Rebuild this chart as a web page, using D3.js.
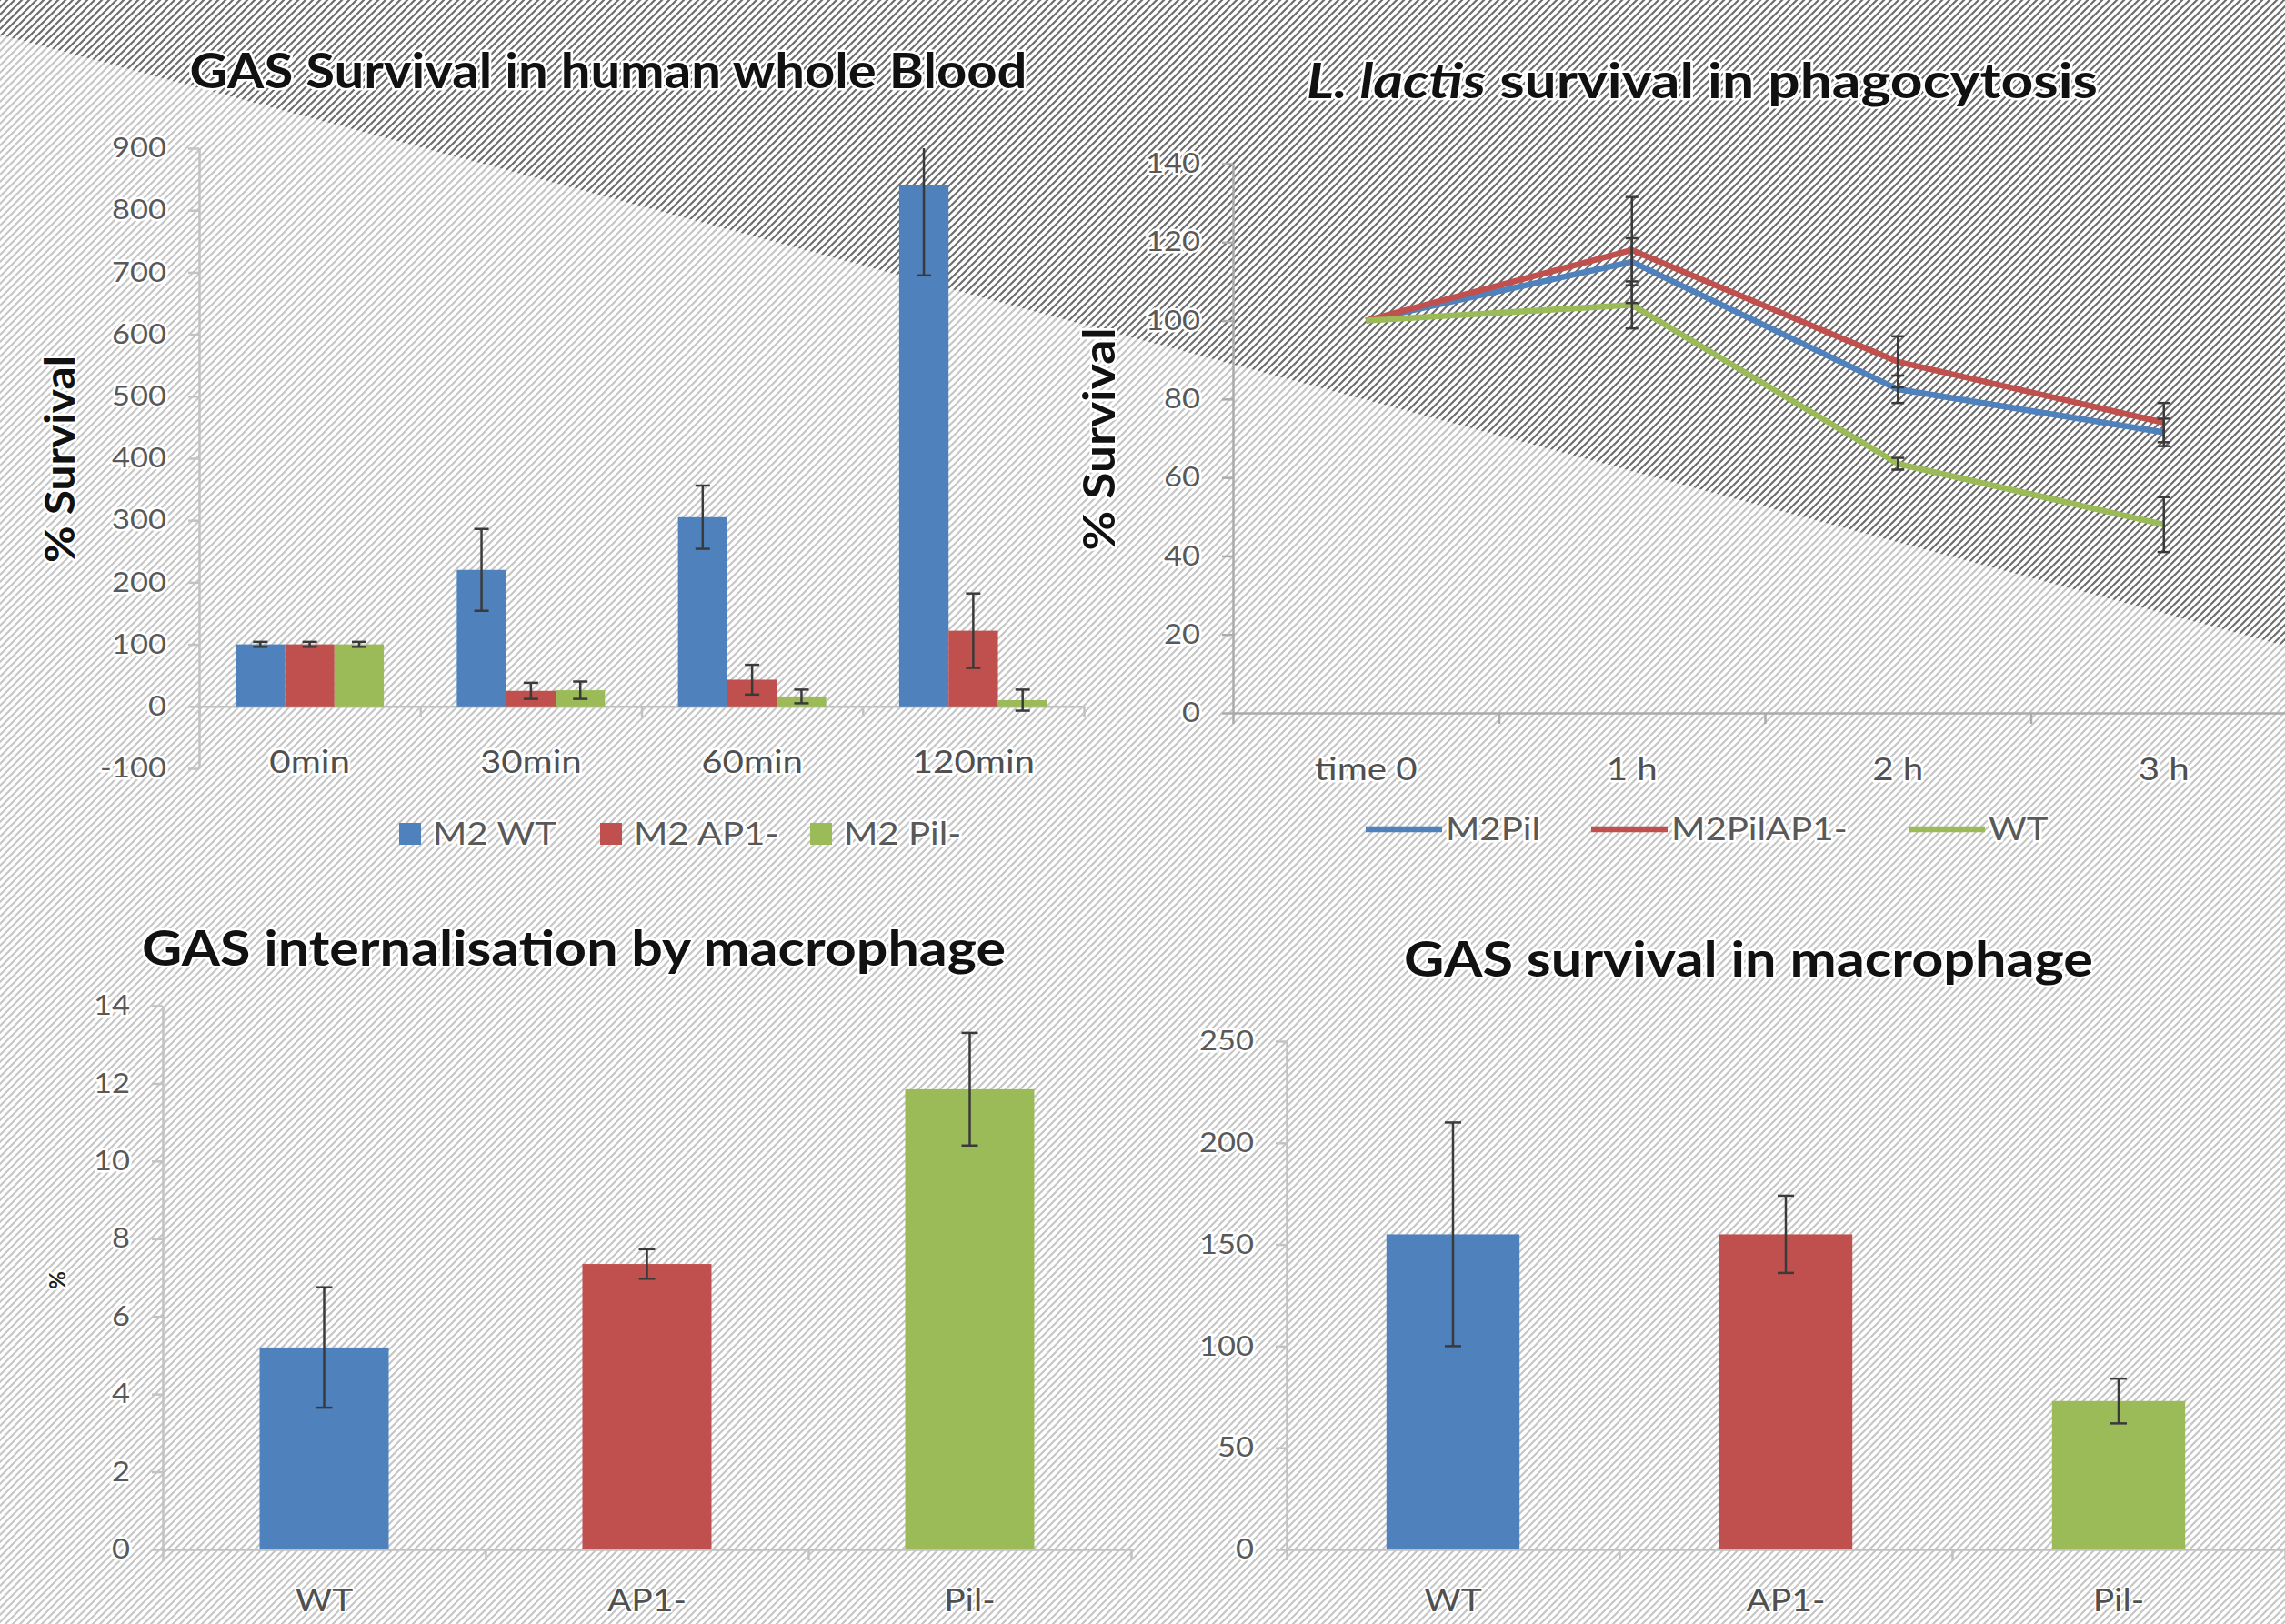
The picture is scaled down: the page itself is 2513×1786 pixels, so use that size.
<!DOCTYPE html>
<html><head><meta charset="utf-8">
<script src="https://cdn.jsdelivr.net/npm/d3@7"></script>
<style>
html,body{margin:0;padding:0;background:#fff;overflow:hidden;}
svg{display:block;}
</style></head><body>
<svg id="c" width="2513" height="1786"></svg>
<script>
// ---------------- DATA ----------------
const bloodTimes = ["0min", "30min", "60min", "120min"];
const bloodSeries = ["M2 WT", "M2 AP1-", "M2 Pil-"];
const bloodWT = [100, 220, 305, 840];
const bloodWTErr = [4, 66, 51, 145];
const bloodAP1 = [100, 25, 43, 122];
const bloodAP1Err = [4, 13, 24, 60];
const bloodPil = [100, 26, 16, 10];
const bloodPilErr = [4, 14, 11, 17];
const bloodTicks = [-100, 0, 100, 200, 300, 400, 500, 600, 700, 800, 900];

const lactisTimes = ["time 0", "1 h", "2 h", "3 h"];
const lactisSeries = ["M2Pil", "M2PilAP1-", "WT"];
const lactisM2Pil = [100, 115, 82.5, 71.5];
const lactisM2PilErr = [0, 6, 3.5, 3.5];
const lactisM2PilAP1 = [100, 118, 89.5, 74];
const lactisM2PilAP1Err = [0, 13.5, 6.5, 5];
const lactisWT = [100, 104, 63.5, 48];
const lactisWTErr = [0, 6, 1.5, 7];
const lactisTicks = [0, 20, 40, 60, 80, 100, 120, 140];

const strains = ["WT", "AP1-", "Pil-"];
const internalisation = [5.2, 7.35, 11.85];
const internalisationErr = [1.55, 0.38, 1.45];
const internalisationTicks = [0, 2, 4, 6, 8, 10, 12, 14];

const macroSurvival = [155, 155, 73];
const macroSurvivalErr = [55, 19, 11];
const macroTicks = [0, 50, 100, 150, 200, 250];

const seriesColors = ["#4F81BD", "#C0504D", "#9BBB59"];

// ---------------- SETUP ----------------
const W = 2513, H = 1786;
const FONT = "Lato, 'Open Sans', 'Liberation Sans', sans-serif";
const svg = d3.select("#c");
const defs = svg.append("defs");
function hatch(id, color) {
  const p = defs.append("pattern").attr("id", id).attr("patternUnits", "userSpaceOnUse")
    .attr("width", 8).attr("height", 8);
  p.append("rect").attr("width", 8).attr("height", 8).attr("fill", "#fff");
  p.append("path").attr("d", "M-2,2 L2,-2 M0,8 L8,0 M6,10 L10,6")
    .attr("stroke", color).attr("stroke-width", 2.2);
}
hatch("hl", "#c6c6c6");
hatch("hd", "#6e6e6e");
svg.append("rect").attr("width", W).attr("height", H).attr("fill", "url(#hl)");
svg.append("path").attr("d", `M0,0 L${W},0 L${W},710 L0,38 Z`).attr("fill", "url(#hd)");

const AXC = "#c2c2c2";
const TXT = "#595959";

function text(g, x, y, s, opt = {}) {
  const t = g.append("text").attr("x", x).attr("y", y).text(s)
    .attr("font-family", FONT)
    .attr("font-size", opt.size || 34)
    .attr("font-weight", opt.bold ? "bold" : "normal")
    .attr("fill", opt.fill || TXT)
    .attr("text-anchor", opt.anchor || "middle")
    .attr("dy", opt.dy == null ? "0.35em" : opt.dy)
    .attr("stroke", "#fff").attr("stroke-width", opt.halo || 5)
    .attr("stroke-linejoin", "round").attr("paint-order", "stroke");
  if (opt.rotate) t.attr("transform", `rotate(${opt.rotate},${x},${y})`);
  if (opt.len) t.attr("textLength", opt.len).attr("lengthAdjust", "spacingAndGlyphs");
  if (opt.sx) t.classed("sx", true);
  return t;
}

function yAxis(g, y, x0, ticks, color) {
  const ga = g.append("g").attr("transform", `translate(${x0},0)`)
    .call(d3.axisLeft(y).tickValues(ticks).tickSize(12).tickSizeOuter(0).tickPadding(24)
      .tickFormat(d => String(d)));
  ga.select(".domain").attr("stroke", color).attr("stroke-width", 2.5);
  ga.selectAll(".tick line").attr("stroke", color).attr("stroke-width", 2.5);
  ga.selectAll(".tick text").attr("font-family", FONT).attr("font-size", 30).attr("fill", TXT)
    .attr("stroke", "#fff").attr("stroke-width", 5).attr("paint-order", "stroke")
    .classed("sx", true);
  return ga;
}

function xAxisBounds(g, x0, x1, n, yPos, color) {
  const s = d3.scaleLinear().domain([0, n]).range([x0, x1]);
  const ga = g.append("g").attr("transform", `translate(0,${yPos})`)
    .call(d3.axisBottom(s).tickValues(d3.range(n + 1)).tickSize(12).tickSizeOuter(0).tickFormat(""));
  ga.select(".domain").attr("stroke", color).attr("stroke-width", 2.5);
  ga.selectAll(".tick line").attr("stroke", color).attr("stroke-width", 2.5);
  return ga;
}

function errBar(g, cx, y, v, e, maxV, cap) {
  const hi = v + e, lo = v - e;
  const top = Math.min(hi, maxV);
  g.append("line").attr("x1", cx).attr("x2", cx).attr("y1", y(top)).attr("y2", y(lo))
    .attr("stroke", "#3a3a3a").attr("stroke-width", 2.5);
  if (hi <= maxV)
    g.append("line").attr("x1", cx - cap / 2).attr("x2", cx + cap / 2).attr("y1", y(hi)).attr("y2", y(hi))
      .attr("stroke", "#3a3a3a").attr("stroke-width", 2.5);
  g.append("line").attr("x1", cx - cap / 2).attr("x2", cx + cap / 2).attr("y1", y(lo)).attr("y2", y(lo))
    .attr("stroke", "#3a3a3a").attr("stroke-width", 2.5);
}

// ---------------- CHART 1: GAS survival in blood ----------------
{
  const g = svg.append("g");
  const x = d3.scaleBand().domain(bloodTimes).range([219, 1192]).paddingInner(0.33).paddingOuter(0.165);
  const xs = d3.scaleBand().domain(bloodSeries).range([0, x.bandwidth()]);
  const y = d3.scaleLinear().domain([-100, 900]).range([845, 163]);
  yAxis(g, y, 219, bloodTicks, AXC);
  xAxisBounds(g, 219, 1192, 4, y(0), AXC);
  const vals = [bloodWT, bloodAP1, bloodPil];
  const errs = [bloodWTErr, bloodAP1Err, bloodPilErr];
  bloodSeries.forEach((s, si) => {
    g.selectAll(null).data(bloodTimes).enter().append("rect")
      .attr("x", t => x(t) + xs(s)).attr("width", xs.bandwidth())
      .attr("y", (t, i) => y(Math.max(0, vals[si][i])))
      .attr("height", (t, i) => Math.abs(y(0) - y(vals[si][i])))
      .attr("fill", seriesColors[si]);
  });
  bloodSeries.forEach((s, si) => {
    bloodTimes.forEach((t, i) => errBar(g, x(t) + xs(s) + xs.bandwidth() / 2, y, vals[si][i], errs[si][i], 900, 16));
  });
  bloodTimes.forEach(t => text(g, x(t) + x.bandwidth() / 2, 838, t, {size: 35, sx: true, fill: "#505050"}));
  text(g, 669, 97, "GAS Survival in human whole Blood", {size: 54, bold: true, fill: "#111", dy: 0, len: 921});
  text(g, 66, 505, "% Survival", {size: 46, bold: true, fill: "#111", rotate: -90, len: 228});
  // legend
  const lx = [439, 660, 891];
  bloodSeries.forEach((s, i) => {
    g.append("rect").attr("x", lx[i]).attr("y", 905).attr("width", 24).attr("height", 24).attr("fill", seriesColors[i]);
    text(g, lx[i] + 37, 917, s, {size: 35, anchor: "start", sx: true});
  });
}

// ---------------- CHART 2: L. lactis survival ----------------
{
  const g = svg.append("g");
  const x = d3.scaleBand().domain(lactisTimes).range([1356, 2526]);
  const y = d3.scaleLinear().domain([0, 140]).range([784, 180]);
  yAxis(g, y, 1356, lactisTicks, "#ababab");
  xAxisBounds(g, 1356, 2526, 4, y(0), "#ababab");
  const vals = [lactisM2Pil, lactisM2PilAP1, lactisWT];
  const errs = [lactisM2PilErr, lactisM2PilAP1Err, lactisWTErr];
  const cx = t => x(t) + x.bandwidth() / 2;
  const line = d3.line().x(d => cx(d.t)).y(d => y(d.v));
  lactisSeries.forEach((s, si) => {
    const data = lactisTimes.map((t, i) => ({t, v: vals[si][i]}));
    g.append("path").attr("d", line(data)).attr("fill", "none")
      .attr("stroke", seriesColors[si]).attr("stroke-width", 6.5).attr("stroke-linejoin", "round");
  });
  lactisSeries.forEach((s, si) => {
    lactisTimes.forEach((t, i) => {
      if (errs[si][i] > 0) errBar(g, cx(t), y, vals[si][i], errs[si][i], 140, 14);
    });
  });
  lactisTimes.forEach(t => text(g, cx(t), 846, t, {size: 35, sx: true, fill: "#505050"}));
  const tt = g.append("text").attr("x", 1872).attr("y", 108).attr("text-anchor", "middle")
    .attr("font-family", FONT).attr("font-size", 54).attr("font-weight", "bold").attr("fill", "#111")
    .attr("stroke", "#fff").attr("stroke-width", 5).attr("stroke-linejoin", "round").attr("paint-order", "stroke")
    .attr("textLength", 870).attr("lengthAdjust", "spacingAndGlyphs");
  tt.append("tspan").attr("font-style", "italic").text("L. lactis");
  tt.append("tspan").text(" survival in phagocytosis");
  text(g, 1209, 483, "% Survival", {size: 48, bold: true, fill: "#111", rotate: -90, len: 245});
  const lx = [1502, 1750, 2099];
  lactisSeries.forEach((s, i) => {
    g.append("line").attr("x1", lx[i]).attr("x2", lx[i] + 84).attr("y1", 912).attr("y2", 912)
      .attr("stroke", seriesColors[i]).attr("stroke-width", 6.5);
    text(g, lx[i] + 88, 912, s, {size: 35, anchor: "start", sx: true});
  });
}

// ---------------- CHART 3: internalisation ----------------
{
  const g = svg.append("g");
  const x = d3.scaleBand().domain(strains).range([179, 1244]).paddingInner(0.6).paddingOuter(0.3);
  const y = d3.scaleLinear().domain([0, 14]).range([1704, 1106]);
  yAxis(g, y, 179, internalisationTicks, AXC);
  xAxisBounds(g, 179, 1244, 3, y(0), AXC);
  g.selectAll(null).data(strains).enter().append("rect")
    .attr("x", d => x(d)).attr("width", x.bandwidth())
    .attr("y", (d, i) => y(internalisation[i])).attr("height", (d, i) => y(0) - y(internalisation[i]))
    .attr("fill", (d, i) => seriesColors[i]);
  strains.forEach((d, i) => errBar(g, x(d) + x.bandwidth() / 2, y, internalisation[i], internalisationErr[i], 14, 18));
  strains.forEach(d => text(g, x(d) + x.bandwidth() / 2, 1760, d, {size: 34, sx: true, fill: "#505050", halo: 3}));
  text(g, 631, 1062, "GAS internalisation by macrophage", {size: 54, bold: true, fill: "#111", dy: 0, len: 950});
  text(g, 64, 1408, "%", {size: 24, bold: true, fill: "#222", rotate: -90});
}

// ---------------- CHART 4: survival in macrophage ----------------
{
  const g = svg.append("g");
  const x = d3.scaleBand().domain(strains).range([1415, 2513]).paddingInner(0.6).paddingOuter(0.3);
  const y = d3.scaleLinear().domain([0, 250]).range([1704, 1145]);
  yAxis(g, y, 1415, macroTicks, AXC);
  xAxisBounds(g, 1415, 2513, 3, y(0), AXC);
  g.selectAll(null).data(strains).enter().append("rect")
    .attr("x", d => x(d)).attr("width", x.bandwidth())
    .attr("y", (d, i) => y(macroSurvival[i])).attr("height", (d, i) => y(0) - y(macroSurvival[i]))
    .attr("fill", (d, i) => seriesColors[i]);
  strains.forEach((d, i) => errBar(g, x(d) + x.bandwidth() / 2, y, macroSurvival[i], macroSurvivalErr[i], 250, 18));
  strains.forEach(d => text(g, x(d) + x.bandwidth() / 2, 1760, d, {size: 34, sx: true, fill: "#505050", halo: 3}));
  text(g, 1923, 1074, "GAS survival in macrophage", {size: 54, bold: true, fill: "#111", dy: 0, len: 758});
}

// horizontal stretch for the regular labels (the reference text is widened)
d3.selectAll("text.sx").each(function () {
  const w = this.getComputedTextLength();
  this.setAttribute("textLength", (w * 1.15).toFixed(1));
  this.setAttribute("lengthAdjust", "spacingAndGlyphs");
});
</script>
</body></html>
